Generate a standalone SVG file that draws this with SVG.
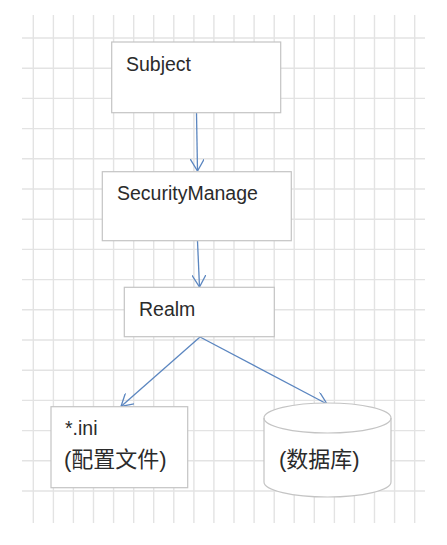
<svg xmlns="http://www.w3.org/2000/svg" width="447" height="545" viewBox="0 0 447 545">
<style>
.grid line{stroke:#e3e3e3;stroke-width:1.4}
.box{fill:#fff;stroke:#c4c4c4;stroke-width:1.2}
.lbl{font-family:"Liberation Sans","Noto Sans CJK SC",sans-serif;font-size:19.5px;fill:#2b2b2b}
.cn{font-family:"Liberation Sans","Noto Sans CJK SC",sans-serif;font-size:22px;fill:#2b2b2b}
.conn line{stroke:#5b86c0;stroke-width:1.3;fill:none}
</style>
<defs>
<marker id="ah" viewBox="0 0 12 14" refX="12" refY="7" markerWidth="12" markerHeight="14" markerUnits="userSpaceOnUse" orient="auto">
<path d="M0,0 L12,7 L0,14" fill="none" stroke="#5b86c0" stroke-width="1.3"/>
</marker>
</defs>
<rect width="447" height="545" fill="#fff"/>
<g class="grid">
<line x1="33.3" y1="15" x2="33.3" y2="523"/>
<line x1="53.4" y1="15" x2="53.4" y2="523"/>
<line x1="73.4" y1="15" x2="73.4" y2="523"/>
<line x1="93.5" y1="15" x2="93.5" y2="523"/>
<line x1="113.6" y1="15" x2="113.6" y2="523"/>
<line x1="133.7" y1="15" x2="133.7" y2="523"/>
<line x1="153.7" y1="15" x2="153.7" y2="523"/>
<line x1="173.8" y1="15" x2="173.8" y2="523"/>
<line x1="193.9" y1="15" x2="193.9" y2="523"/>
<line x1="213.9" y1="15" x2="213.9" y2="523"/>
<line x1="234" y1="15" x2="234" y2="523"/>
<line x1="254.1" y1="15" x2="254.1" y2="523"/>
<line x1="274.2" y1="15" x2="274.2" y2="523"/>
<line x1="294.2" y1="15" x2="294.2" y2="523"/>
<line x1="314.3" y1="15" x2="314.3" y2="523"/>
<line x1="334.4" y1="15" x2="334.4" y2="523"/>
<line x1="354.4" y1="15" x2="354.4" y2="523"/>
<line x1="374.5" y1="15" x2="374.5" y2="523"/>
<line x1="394.6" y1="15" x2="394.6" y2="523"/>
<line x1="414.7" y1="15" x2="414.7" y2="523"/>
<line x1="22" y1="38" x2="425" y2="38"/>
<line x1="22" y1="68.2" x2="425" y2="68.2"/>
<line x1="22" y1="98.4" x2="425" y2="98.4"/>
<line x1="22" y1="128.6" x2="425" y2="128.6"/>
<line x1="22" y1="158.8" x2="425" y2="158.8"/>
<line x1="22" y1="189" x2="425" y2="189"/>
<line x1="22" y1="219.2" x2="425" y2="219.2"/>
<line x1="22" y1="249.4" x2="425" y2="249.4"/>
<line x1="22" y1="279.6" x2="425" y2="279.6"/>
<line x1="22" y1="309.8" x2="425" y2="309.8"/>
<line x1="22" y1="340" x2="425" y2="340"/>
<line x1="22" y1="370.2" x2="425" y2="370.2"/>
<line x1="22" y1="400.4" x2="425" y2="400.4"/>
<line x1="22" y1="430.6" x2="425" y2="430.6"/>
<line x1="22" y1="460.8" x2="425" y2="460.8"/>
<line x1="22" y1="491" x2="425" y2="491"/>
</g>
<g class="conn">
<line x1="196.5" y1="113" x2="197.5" y2="171" marker-end="url(#ah)"/>
<line x1="197.5" y1="241" x2="199.5" y2="287" marker-end="url(#ah)"/>
<line x1="200" y1="337" x2="121" y2="406.5" marker-end="url(#ah)"/>
<line x1="200" y1="337" x2="327" y2="404" marker-end="url(#ah)"/>
</g>
<g id="subject">
<rect class="box" x="111.7" y="42" width="169" height="70.7"/>
<text class="lbl" x="126" y="71">Subject</text>
</g>
<g id="securitymanage">
<rect class="box" x="102.3" y="171.7" width="189" height="69"/>
<text class="lbl" x="117" y="200">SecurityManage</text>
</g>
<g id="realm">
<rect class="box" x="124.3" y="287.3" width="150" height="49.4"/>
<text class="lbl" x="139" y="316">Realm</text>
</g>
<g id="ini">
<rect class="box" x="51" y="406.7" width="136.7" height="81"/>
<text class="lbl" x="65" y="435">*.ini</text>
<text class="cn" x="64" y="467">(配置文件)</text>
</g>
<g id="db">
<path class="box" d="M264,418 L264,482 A63.5,15 0 0 0 391,482 L391,418 A63.5,15 0 0 0 264,418 Z"/>
<path d="M264,418 A63.5,15 0 0 0 391,418" fill="none" stroke="#c4c4c4" stroke-width="1.2"/>
<text class="cn" x="279" y="467">(数据库)</text>
</g>
</svg>
